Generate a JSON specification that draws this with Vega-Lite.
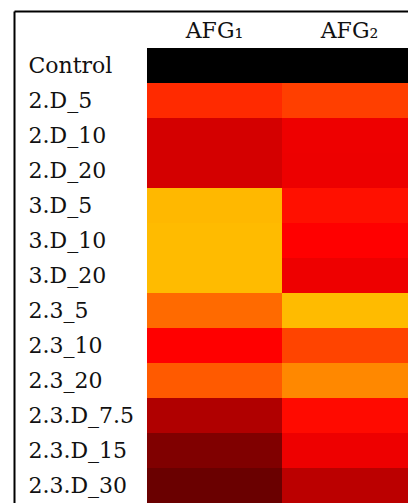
{
  "$schema": "https://vega.github.io/schema/vega-lite/v6.json",
  "autosize": "none",
  "padding": {"left": 14, "top": 11, "right": 0, "bottom": 0},
  "width": 394,
  "height": 492,
  "background": "white",
  "config": {"view": {"stroke": null}, "font": "DejaVu Serif"},
  "data": {"values": [
    {"sample": "Control", "strain": "AFG₁", "value": 0},
    {"sample": "Control", "strain": "AFG₂", "value": 0},
    {"sample": "2.D_5", "strain": "AFG₁", "value": 1.165},
    {"sample": "2.D_5", "strain": "AFG₂", "value": 1.247},
    {"sample": "2.D_10", "strain": "AFG₁", "value": 0.831},
    {"sample": "2.D_10", "strain": "AFG₂", "value": 0.933},
    {"sample": "2.D_20", "strain": "AFG₁", "value": 0.831},
    {"sample": "2.D_20", "strain": "AFG₂", "value": 0.93},
    {"sample": "3.D_5", "strain": "AFG₁", "value": 1.72},
    {"sample": "3.D_5", "strain": "AFG₂", "value": 1.063},
    {"sample": "3.D_10", "strain": "AFG₁", "value": 1.733},
    {"sample": "3.D_10", "strain": "AFG₂", "value": 1.0},
    {"sample": "3.D_20", "strain": "AFG₁", "value": 1.733},
    {"sample": "3.D_20", "strain": "AFG₂", "value": 0.933},
    {"sample": "2.3_5", "strain": "AFG₁", "value": 1.416},
    {"sample": "2.3_5", "strain": "AFG₂", "value": 1.733},
    {"sample": "2.3_10", "strain": "AFG₁", "value": 1.0},
    {"sample": "2.3_10", "strain": "AFG₂", "value": 1.267},
    {"sample": "2.3_20", "strain": "AFG₁", "value": 1.353},
    {"sample": "2.3_20", "strain": "AFG₂", "value": 1.533},
    {"sample": "2.3.D_7.5", "strain": "AFG₁", "value": 0.69},
    {"sample": "2.3.D_7.5", "strain": "AFG₂", "value": 1.04},
    {"sample": "2.3.D_15", "strain": "AFG₁", "value": 0.502},
    {"sample": "2.3.D_15", "strain": "AFG₂", "value": 0.933},
    {"sample": "2.3.D_30", "strain": "AFG₁", "value": 0.416},
    {"sample": "2.3.D_30", "strain": "AFG₂", "value": 0.733}
  ]},
  "mark": {"type": "rect"},
  "encoding": {
    "x": {
      "field": "strain", "type": "nominal", "sort": ["AFG₁", "AFG₂"],
      "scale": {"range": [0, 410], "paddingInner": 0, "paddingOuter": 0.5185, "align": 0.95},
      "axis": {"orient": "top", "title": null, "domain": true, "domainWidth": 2, "domainColor": "black", "ticks": false, "labelPadding": -26, "labelBaseline": "alphabetic", "labelFontSize": 22, "labelFont": "DejaVu Serif", "labelColor": "#111111", "labelAngle": 0}
    },
    "y": {
      "field": "sample", "type": "nominal",
      "sort": ["Control", "2.D_5", "2.D_10", "2.D_20", "3.D_5", "3.D_10", "3.D_20", "2.3_5", "2.3_10", "2.3_20", "2.3.D_7.5", "2.3.D_15", "2.3.D_30"],
      "scale": {"paddingInner": 0, "paddingOuter": 0.5286, "align": 1},
      "axis": {"orient": "left", "title": null, "domain": true, "domainWidth": 2, "domainColor": "black", "ticks": false, "labelAlign": "left", "labelPadding": -14, "labelBaseline": "middle", "labelFontSize": 22, "labelFont": "DejaVu Serif", "labelColor": "#111111"}
    },
    "color": {
      "field": "value", "type": "quantitative",
      "scale": {"domain": [0, 1, 1.733], "range": ["#000000", "#ff0000", "#ffbb00"], "interpolate": "rgb"},
      "legend": null
    }
  }
}
